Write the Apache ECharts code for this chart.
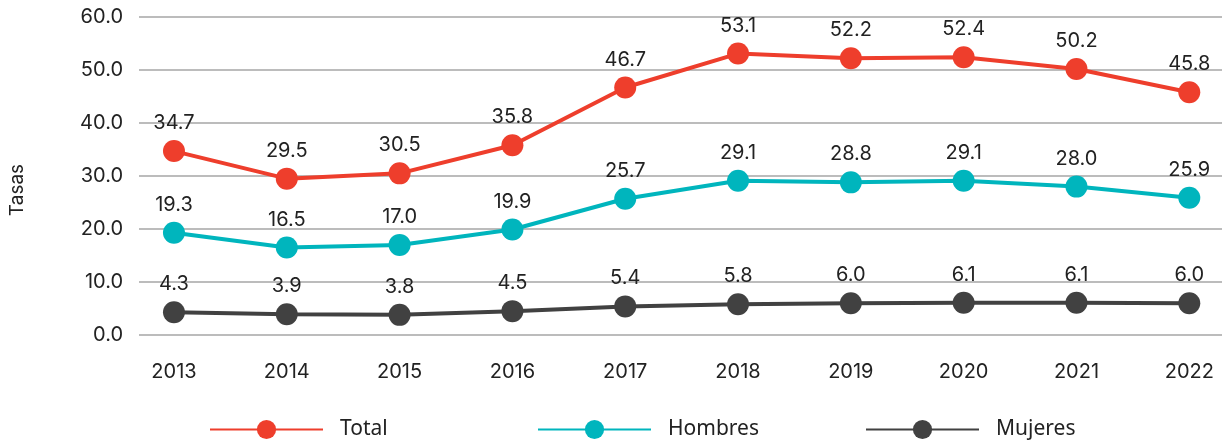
<!DOCTYPE html>
<html>
<head>
<meta charset="utf-8">
<script src="https://cdn.jsdelivr.net/npm/echarts@6/dist/echarts.min.js"></script>
<style>
  html, body { margin: 0; padding: 0; background: #fff; }
  #chart { width: 1226px; height: 444px; }
</style>
</head>
<body>
<div id="chart"></div>
<script>
// años y tasas
var years = [2013, 2014, 2015, 2016, 2017, 2018, 2019, 2020, 2021, 2022];
var total = [34.7, 29.5, 30.5, 35.8, 46.7, 53.1, 52.2, 52.4, 50.2, 45.8];
var hombres = [19.3, 16.5, 17.0, 19.9, 25.7, 29.1, 28.8, 29.1, 28.0, 25.9];
var mujeres = [4.3, 3.9, 3.8, 4.5, 5.4, 5.8, 6.0, 6.1, 6.1, 6.0];
var seriesNames = ['Total', 'Hombres', 'Mujeres'];

(function(){
  var myChart = echarts.init(document.getElementById('chart'));
  var font = 'Inter, "Noto Sans", sans-serif';

  function pares(vals){
    return years.map(function(y, i){ return [y, vals[i]]; });
  }

  function serie(name, color, vals){
    return {
      name: name,
      type: 'line',
      data: pares(vals),
      symbol: 'circle',
      symbolSize: 22,
      lineStyle: { color: color, width: 4 },
      itemStyle: { color: color },
      label: {
        show: true,
        position: 'top',
        distance: 7,
        color: '#222',
        fontSize: 20,
        fontFamily: font,
        formatter: function(p){ return p.value[1].toFixed(1); }
      },
      emphasis: { disabled: true }
    };
  }

  // una leyenda por serie, con separación fija
  var legendLeft = [209, 537, 865];
  var legends = seriesNames.map(function(n, i){
    return {
      left: legendLeft[i],
      bottom: 4,
      padding: 0,
      itemWidth: 113,
      itemHeight: 24,
      textStyle: {
        color: '#222', fontSize: 21, fontFamily: '"Noto Sans", sans-serif',
        padding: [0, 0, 0, 12]
      },
      data: [n]
    };
  });

  var option = {
    animation: false,
    grid: { left: 138, right: 4, top: 17, bottom: 109 },
    legend: legends,
    xAxis: {
      type: 'value',
      min: 2012.69,
      max: 2022.29,
      splitLine: { show: false },
      axisLine: { show: false },
      axisTick: { show: false },
      axisLabel: {
        customValues: years,
        color: '#222',
        fontSize: 20,
        fontFamily: font,
        margin: 27,
        formatter: function(v){ return String(Math.round(v)); }
      }
    },
    yAxis: {
      type: 'value',
      min: 0,
      max: 60,
      interval: 10,
      name: 'Tasas',
      nameLocation: 'middle',
      nameRotate: 90,
      nameGap: 112,
      nameTextStyle: { color: '#222', fontSize: 19, fontFamily: font, padding: [0, 0, 0, -28] },
      axisLine: { show: false },
      axisTick: { show: false },
      axisLabel: {
        color: '#222',
        fontSize: 20,
        fontFamily: font,
        margin: 16,
        formatter: function(v){ return v.toFixed(1); }
      },
      splitLine: { lineStyle: { color: '#a6a6a6', width: 1.5 } }
    },
    series: [
      serie(seriesNames[0], '#ee3e2c', total),
      serie(seriesNames[1], '#00b5bd', hombres),
      serie(seriesNames[2], '#414141', mujeres)
    ]
  };

  myChart.setOption(option);
  window.addEventListener('resize', function(){
    myChart.resize();
  });
})();
</script>
</body>
</html>
